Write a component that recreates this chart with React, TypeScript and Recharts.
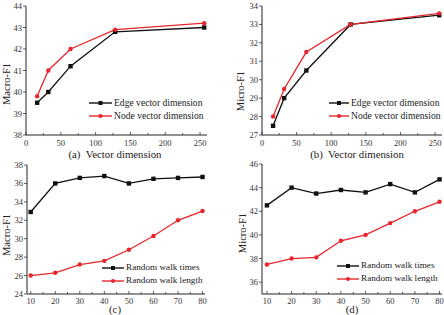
import React from 'react';
import { LineChart, Line, XAxis, YAxis, Legend } from 'recharts';

// Vector dimension sweep
const dims = [16, 32, 64, 128, 256];
const edgeMacro = [39.5, 40.0, 41.2, 42.8, 43.0];
const nodeMacro = [39.8, 41.0, 42.0, 42.9, 43.2];
const edgeMicro = [27.5, 29.0, 30.5, 33.0, 33.5];
const nodeMicro = [28.0, 29.5, 31.5, 33.0, 33.6];

// Random walk sweep
const walkParams = [10, 20, 30, 40, 50, 60, 70, 80];
const timesMacro = [32.9, 36.0, 36.6, 36.8, 36.0, 36.5, 36.6, 36.7];
const lengthMacro = [26.0, 26.3, 27.2, 27.6, 28.8, 30.3, 32.0, 33.0];
const timesMicro = [42.5, 44.0, 43.5, 43.8, 43.6, 44.3, 43.6, 44.7];
const lengthMicro = [37.5, 38.0, 38.1, 39.5, 40.0, 41.0, 42.0, 42.8];

// Tick labels
const dimMajor = [0, 50, 100, 150, 200, 250];
const dimMinor = [25, 75, 125, 175, 225];
const walkMajor = [10, 20, 30, 40, 50, 60, 70, 80];
const walkMinor = [15, 25, 35, 45, 55, 65, 75];
const macroDimTicks = [38, 39, 40, 41, 42, 43, 44];
const microDimTicks = [27, 28, 29, 30, 31, 32, 33, 34];
const macroWalkTicks = [24, 26, 28, 30, 32, 34, 36, 38];
const microWalkTicks = [36, 38, 40, 42, 44, 46];

const edgeNames = ['Edge vector dimension', 'Node vector dimension'];
const walkNames = ['Random walk times', 'Random walk length'];

const FONT = '"Liberation Serif", Tinos, "Times New Roman", serif';
const BLACK = '#111111';
const RED = '#e8262b';

const SquareDot = (props: any) => {
  const { cx, cy, index } = props;
  if (cx == null || cy == null) return <g key={`s${index}`} />;
  return <rect key={`s${index}`} x={cx - 2.2} y={cy - 2.2} width={4.4} height={4.4} fill={BLACK} />;
};

const RoundDot = (props: any) => {
  const { cx, cy, index } = props;
  if (cx == null || cy == null) return <g key={`c${index}`} />;
  return <circle key={`c${index}`} cx={cx} cy={cy} r={2.2} fill={RED} />;
};

const makeXTick = (majors: number[], dy: number) => (props: any) => {
  const { x, y, payload } = props;
  const v = payload.value;
  const isMajor = majors.includes(v);
  return (
    <g>
      <line x1={x} x2={x} y1={y} y2={y - (isMajor ? 3 : 2)} stroke="#333" strokeWidth={0.8} />
      {isMajor && (
        <text x={x} y={y + dy} textAnchor="middle" fontSize={8.5} fill="#333" fontFamily={FONT}>
          {v}
        </text>
      )}
    </g>
  );
};

const LegendBox = (names: string[], fontSize: number, sample: number) => () => (
  <div style={{ fontFamily: FONT, fontSize, color: '#222', lineHeight: '13px' }}>
    {names.map((n, i) => (
      <div key={n} style={{ display: 'flex', alignItems: 'center', whiteSpace: 'nowrap' }}>
        <svg width={sample} height={8} style={{ marginRight: 2 }}>
          <line x1={0} x2={sample} y1={4} y2={4} stroke={i === 0 ? BLACK : RED} strokeWidth={1.4} />
          {i === 0 ? (
            <rect x={sample / 2 - 2} y={2} width={4} height={4} fill={BLACK} />
          ) : (
            <circle cx={sample / 2} cy={4} r={2} fill={RED} />
          )}
        </svg>
        <span>{n}</span>
      </div>
    ))}
  </div>
);

type PanelProps = {
  left: number;
  top: number;
  margin: { top: number; right: number; left: number; bottom: number };
  yWidth: number;
  xHeight: number;
  xs: number[];
  s1: number[];
  s2: number[];
  names: string[];
  xDomain: [number, number];
  xMajor: number[];
  xMinor: number[];
  xDy: number;
  yDomain: [number, number];
  yTicks: number[];
  legendPos: { left: number; top: number };
  legendFont: number;
  legendSample: number;
};

const Panel = (p: PanelProps) => {
  const data = p.xs.map((x, i) => ({ x, a: p.s1[i], b: p.s2[i] }));
  const xTicks = [...p.xMajor, ...p.xMinor].sort((a, b) => a - b);
  return (
    <div style={{ position: 'absolute', left: p.left, top: p.top }}>
      <LineChart width={222} height={160} data={data} margin={p.margin}>
        <XAxis
          dataKey="x"
          type="number"
          domain={p.xDomain}
          ticks={xTicks}
          interval={0}
          allowDataOverflow
          height={p.xHeight}
          tickLine={false}
          tickSize={0}
          tickMargin={0}
          tick={makeXTick(p.xMajor, p.xDy)}
          axisLine={{ stroke: '#222', strokeWidth: 1 }}
        />
        <XAxis
          xAxisId="frame"
          orientation="top"
          type="number"
          dataKey="x"
          domain={p.xDomain}
          height={0}
          tick={false}
          tickLine={false}
          axisLine={{ stroke: '#a8a8a8', strokeWidth: 1 }}
        />
        <YAxis
          type="number"
          domain={p.yDomain}
          ticks={p.yTicks}
          interval={0}
          allowDataOverflow
          width={p.yWidth}
          tickSize={3}
          tickMargin={1}
          tickLine={{ stroke: '#333', strokeWidth: 0.8 }}
          tick={{ fontSize: 8.5, fill: '#333', fontFamily: FONT }}
          axisLine={{ stroke: '#222', strokeWidth: 1 }}
        />
        <YAxis
          yAxisId="frame"
          orientation="right"
          type="number"
          domain={p.yDomain}
          width={0}
          tick={false}
          tickLine={false}
          axisLine={{ stroke: '#a8a8a8', strokeWidth: 1 }}
        />
        <Legend
          layout="horizontal"
          verticalAlign="middle"
          align="center"
          content={LegendBox(p.names, p.legendFont, p.legendSample)}
          wrapperStyle={{ left: p.legendPos.left, top: p.legendPos.top, width: 'auto', height: 'auto' }}
        />
        <Line
          dataKey="a"
          name={p.names[0]}
          stroke={BLACK}
          strokeWidth={1.3}
          dot={SquareDot}
          isAnimationActive={false}
        />
        <Line
          dataKey="b"
          name={p.names[1]}
          stroke={RED}
          strokeWidth={1.3}
          dot={RoundDot}
          isAnimationActive={false}
        />
      </LineChart>
    </div>
  );
};

export default function App() {
  return (
    <div
      style={{
        position: 'absolute',
        left: 0,
        top: 0,
        width: 444,
        height: 315,
        background: '#fff',
        overflow: 'hidden',
      }}
    >
      <Panel
        left={0}
        top={0}
        margin={{ top: 6, right: 15, left: 0, bottom: 0 }}
        yWidth={26}
        xHeight={25}
        xs={dims}
        s1={edgeMacro}
        s2={nodeMacro}
        names={edgeNames}
        xDomain={[0, 260]}
        xMajor={dimMajor}
        xMinor={dimMinor}
        xDy={11}
        yDomain={[38, 44]}
        yTicks={macroDimTicks}
        legendPos={{ left: 89, top: 96 }}
        legendFont={9.6}
        legendSample={23}
      />
      <Panel
        left={222}
        top={0}
        margin={{ top: 6, right: 2, left: 0, bottom: 0 }}
        yWidth={40}
        xHeight={25}
        xs={dims}
        s1={edgeMicro}
        s2={nodeMicro}
        names={edgeNames}
        xDomain={[0, 260]}
        xMajor={dimMajor}
        xMinor={dimMinor}
        xDy={11}
        yDomain={[27, 34]}
        yTicks={microDimTicks}
        legendPos={{ left: 107, top: 96 }}
        legendFont={9.6}
        legendSample={20}
      />
      <Panel
        left={0}
        top={155}
        margin={{ top: 10, right: 17, left: 0, bottom: 0 }}
        yWidth={27}
        xHeight={21}
        xs={walkParams}
        s1={timesMacro}
        s2={lengthMacro}
        names={walkNames}
        xDomain={[8.5, 81]}
        xMajor={walkMajor}
        xMinor={walkMinor}
        xDy={10}
        yDomain={[24, 38]}
        yTicks={macroWalkTicks}
        legendPos={{ left: 102, top: 106 }}
        legendFont={9.2}
        legendSample={22}
      />
      <Panel
        left={222}
        top={155}
        margin={{ top: 9, right: 2, left: 0, bottom: 0 }}
        yWidth={40}
        xHeight={21}
        xs={walkParams}
        s1={timesMicro}
        s2={lengthMicro}
        names={walkNames}
        xDomain={[8, 81]}
        xMajor={walkMajor}
        xMinor={walkMinor}
        xDy={10}
        yDomain={[35, 46]}
        yTicks={microWalkTicks}
        legendPos={{ left: 115, top: 104 }}
        legendFont={9.2}
        legendSample={22}
      />
      <svg
        width={444}
        height={315}
        style={{ position: 'absolute', left: 0, top: 0, pointerEvents: 'none' }}
        fontFamily={FONT}
        fill="#222"
      >
        <text x={115} y={158} fontSize={10.8} textAnchor="middle" style={{ whiteSpace: 'pre' }}>
          {'(a)  Vector dimension'}
        </text>
        <text x={357} y={158} fontSize={10.8} textAnchor="middle" style={{ whiteSpace: 'pre' }}>
          {'(b)  Vector dimension'}
        </text>
        <text x={115} y={313} fontSize={10.8} textAnchor="middle">
          (c)
        </text>
        <text x={352} y={313} fontSize={10.8} textAnchor="middle">
          (d)
        </text>
        <text x={6} y={84} fontSize={10.5} textAnchor="middle" dominantBaseline="central" transform="rotate(-90 6 84)">
          Macro-F1
        </text>
        <text x={240} y={91} fontSize={10.5} textAnchor="middle" dominantBaseline="central" transform="rotate(-90 240 91)">
          Micro-F1
        </text>
        <text x={6} y={235} fontSize={10.5} textAnchor="middle" dominantBaseline="central" transform="rotate(-90 6 235)">
          Macro-F1
        </text>
        <text x={242} y={233} fontSize={10.5} textAnchor="middle" dominantBaseline="central" transform="rotate(-90 242 233)">
          Micro-F1
        </text>
      </svg>
    </div>
  );
}
